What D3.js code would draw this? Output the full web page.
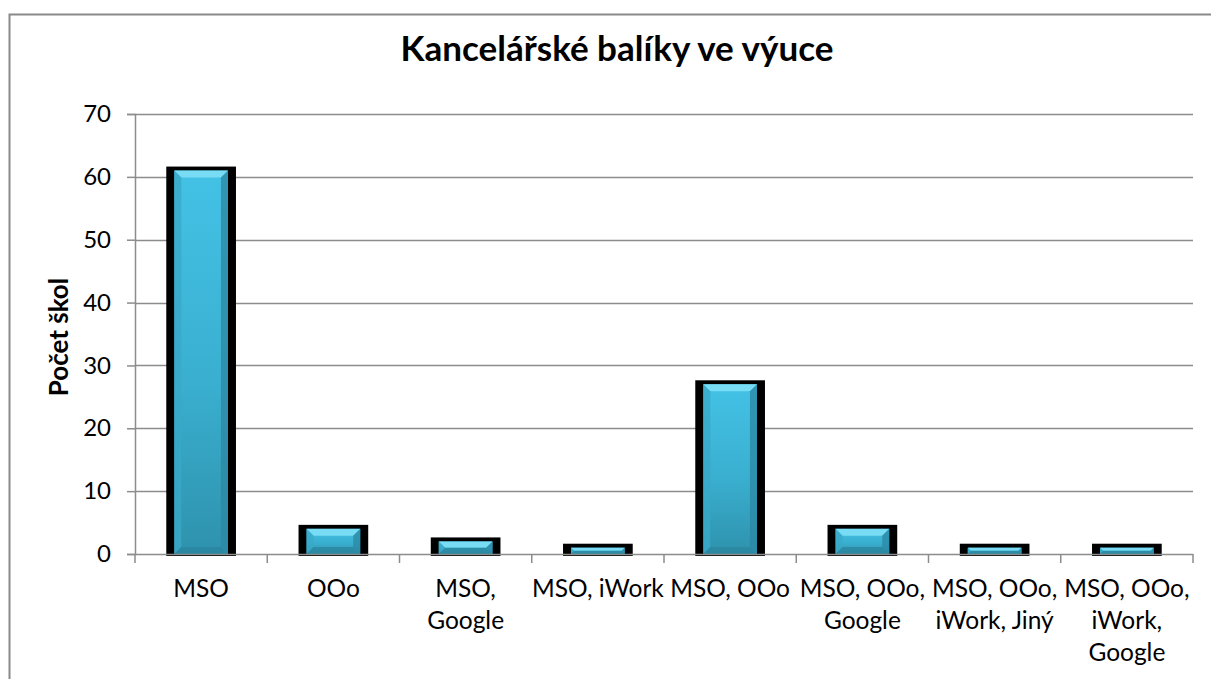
<!DOCTYPE html>
<html>
<head>
<meta charset="utf-8">
<script src="https://cdn.jsdelivr.net/npm/d3@7"></script>
<style>
  body { margin: 0; background: #fff; }
  svg { display: block; font-family: Lato, "Noto Sans", sans-serif; }
</style>
</head>
<body>
<svg id="chart"></svg>
<script>
  // data
  let categories = ['MSO', 'OOo', 'MSO, Google', 'MSO, iWork', 'MSO, OOo',
    'MSO, OOo, Google', 'MSO, OOo, iWork, Jiný', 'MSO, OOo, iWork, Google'];
  let values = [61, 4, 2, 1, 27, 4, 1, 1];
  let tickLabels = [['MSO'], ['OOo'], ['MSO,', 'Google'], ['MSO, iWork'], ['MSO, OOo'],
    ['MSO, OOo,', 'Google'], ['MSO, OOo,', 'iWork, Jiný'], ['MSO, OOo,', 'iWork,', 'Google']];
  let yTicks = [0, 10, 20, 30, 40, 50, 60, 70];
  let title = 'Kancelářské balíky ve výuce';
  let yTitle = 'Počet škol';

  let width = 1211, height = 679;
  let plot = { left: 135, right: 1193, top: 114, bottom: 554 };

  let svg = d3.select('#chart')
    .attr('width', width)
    .attr('height', height);

  // chart frame
  svg.append('rect')
    .attr('x', 9.5).attr('y', 14.5)
    .attr('width', 1220).attr('height', 700)
    .attr('fill', '#fff')
    .attr('stroke', '#898989')
    .attr('stroke-width', 2);

  let defs = svg.append('defs');
  let grad = defs.append('linearGradient')
    .attr('id', 'barFill')
    .attr('x1', 0).attr('y1', 0).attr('x2', 0).attr('y2', 1);
  grad.append('stop').attr('offset', '0%').attr('stop-color', '#43c2e6');
  grad.append('stop').attr('offset', '55%').attr('stop-color', '#3aafd0');
  grad.append('stop').attr('offset', '100%').attr('stop-color', '#2e92ad');

  let x = d3.scaleBand()
    .domain(categories)
    .range([plot.left, plot.right])
    .paddingInner(0.594)
    .paddingOuter(0.297);

  let y = d3.scaleLinear()
    .domain([0, 70])
    .range([plot.bottom, plot.top]);

  // gridlines
  svg.append('g')
    .selectAll('line')
    .data(yTicks.filter(d => d > 0))
    .enter()
    .append('line')
    .attr('x1', plot.left).attr('x2', plot.right)
    .attr('y1', d => Math.round(y(d)) + 0.5)
    .attr('y2', d => Math.round(y(d)) + 0.5)
    .attr('stroke', '#8c8c8c')
    .attr('stroke-width', 1.5);

  // y axis
  let yAxis = svg.append('g')
    .attr('transform', `translate(${plot.left}, 0)`)
    .call(d3.axisLeft(y).tickValues(yTicks).tickSize(8).tickPadding(16));
  yAxis.selectAll('line, path').attr('stroke', '#8c8c8c').attr('stroke-width', 1.5);
  yAxis.selectAll('text')
    .attr('font-size', 24)
    .attr('font-family', 'Lato')
    .attr('fill', '#000');

  // bars
  let bars = svg.append('g')
    .selectAll('g')
    .data(values)
    .enter()
    .append('g')
    .attr('class', 'bar');

  let bx = (d, i) => x(categories[i]);
  let bw = x.bandwidth();

  bars.append('rect')
    .attr('x', (d, i) => bx(d, i) - 8)
    .attr('y', d => y(d) - 4)
    .attr('width', bw + 16)
    .attr('height', d => y(0) - y(d) + 6)
    .attr('fill', '#000');

  bars.append('rect')
    .attr('x', bx)
    .attr('y', d => y(d))
    .attr('width', bw)
    .attr('height', d => y(0) - y(d))
    .attr('fill', 'url(#barFill)');

  // bevel edges
  let bevel = d => Math.min(7, (y(0) - y(d)) / 2);
  bars.append('path')
    .attr('d', (d, i) => {
      let x0 = bx(d, i), x1 = x0 + bw, t = y(d), b = bevel(d);
      return `M${x0},${t}L${x1},${t}L${x1 - b},${t + b}L${x0 + b},${t + b}Z`;
    })
    .attr('fill', '#78dcf5');
  bars.append('path')
    .attr('d', (d, i) => {
      let x0 = bx(d, i), t = y(d), bot = y(0), b = bevel(d);
      return `M${x0},${t}L${x0 + b},${t + b}L${x0 + b},${bot - b}L${x0},${bot}Z`;
    })
    .attr('fill', '#3aa9c8')
    .attr('opacity', 0.8);
  bars.append('path')
    .attr('d', (d, i) => {
      let x1 = bx(d, i) + bw, t = y(d), bot = y(0), b = bevel(d);
      return `M${x1},${t}L${x1 - b},${t + b}L${x1 - b},${bot - b}L${x1},${bot}Z`;
    })
    .attr('fill', '#2c8aa5')
    .attr('opacity', 0.8);
  bars.append('path')
    .attr('d', (d, i) => {
      let x0 = bx(d, i), x1 = x0 + bw, bot = y(0), b = bevel(d);
      return `M${x0},${bot}L${x0 + b},${bot - b}L${x1 - b},${bot - b}L${x1},${bot}Z`;
    })
    .attr('fill', '#2b869f')
    .attr('opacity', 0.8);

  // x axis
  let xAxis = svg.append('g');
  xAxis.append('line')
    .attr('x1', plot.left).attr('x2', plot.right)
    .attr('y1', plot.bottom + 0.5).attr('y2', plot.bottom + 0.5)
    .attr('stroke', '#8c8c8c').attr('stroke-width', 1.5);
  xAxis.selectAll('.tick')
    .data(d3.range(categories.length + 1))
    .enter()
    .append('line')
    .attr('x1', i => plot.left + i * x.step())
    .attr('x2', i => plot.left + i * x.step())
    .attr('y1', plot.bottom).attr('y2', plot.bottom + 9)
    .attr('stroke', '#8c8c8c').attr('stroke-width', 1.5);

  let labels = xAxis.selectAll('.xlabel')
    .data(categories)
    .enter()
    .append('text')
    .attr('class', 'xlabel')
    .attr('text-anchor', 'middle')
    .attr('font-size', 24.5)
    .attr('fill', '#000');
  labels.selectAll('tspan')
    .data((d, i) => tickLabels[i].map(t => ({ t, c: d })))
    .enter()
    .append('tspan')
    .attr('x', d => x(d.c) + bw / 2)
    .attr('y', (d, j) => 597 + j * 32)
    .text(d => d.t);

  // title
  svg.append('text')
    .attr('x', 617)
    .attr('y', 61)
    .attr('text-anchor', 'middle')
    .attr('font-size', 35)
    .attr('font-weight', 'bold')
    .text(title);

  // y axis title
  svg.append('text')
    .attr('transform', `translate(68, ${(plot.top + plot.bottom) / 2 + 3}) rotate(-90)`)
    .attr('text-anchor', 'middle')
    .attr('font-size', 26)
    .attr('font-weight', 'bold')
    .text(yTitle);
</script>
</body>
</html>
